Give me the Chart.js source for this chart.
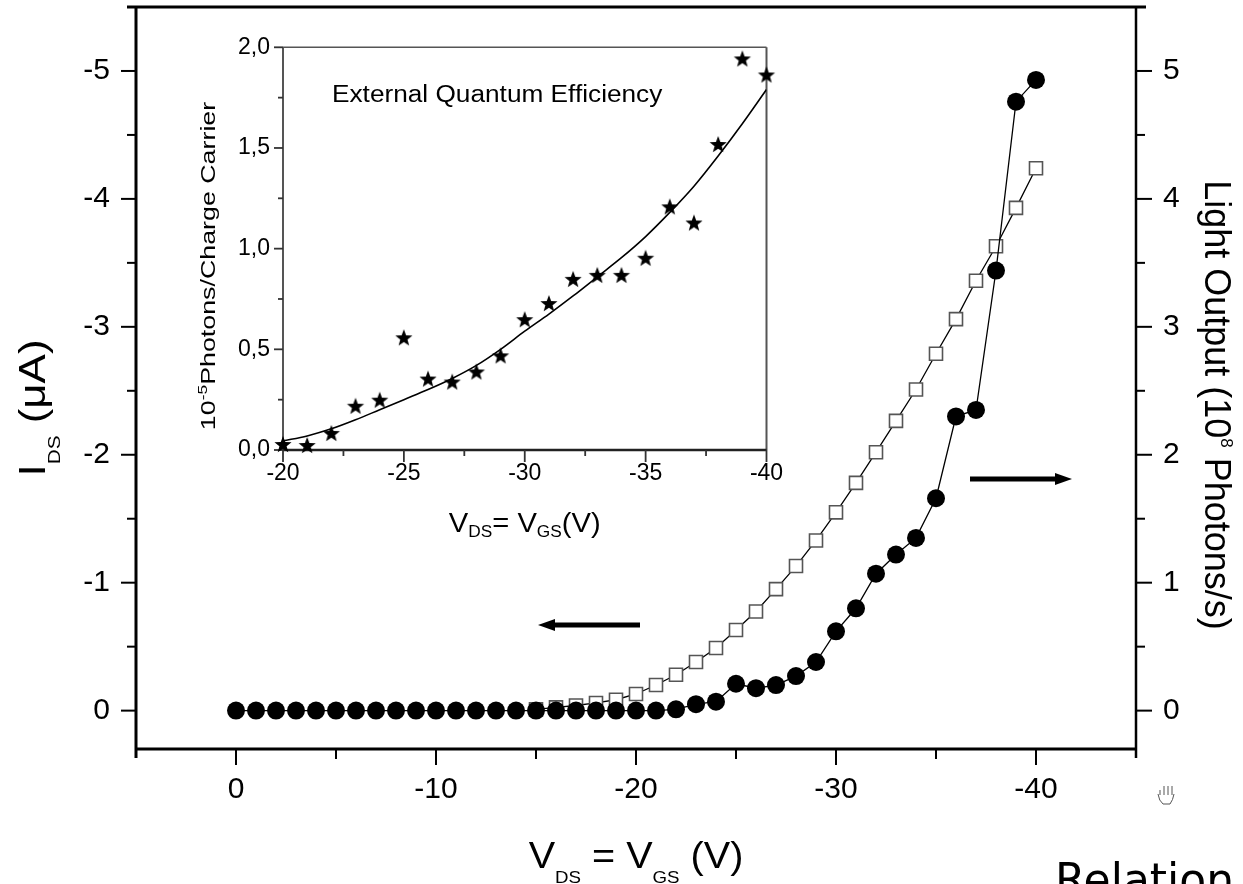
<!DOCTYPE html>
<html>
<head>
<meta charset="utf-8">
<script src="https://cdn.jsdelivr.net/npm/chart.js@4.4.1/dist/chart.umd.min.js"></script>
<style>
html, body { margin: 0; padding: 0; background: #fff; overflow: hidden; }
#wrap { position: relative; width: 1243px; height: 884px; }
#wrap canvas { position: absolute; left: 0; top: 0; }
#relation { position: absolute; left: 1055px; top: 858px; font: 44px "DejaVu Sans", sans-serif; line-height: 1; color: #000; }
</style>
</head>
<body>
<div id="wrap">
  <canvas id="mainChart" width="1243" height="884"></canvas>
  <canvas id="insetChart" width="1243" height="884"></canvas>
  <div id="relation">Relation</div>
</div>
<script>
// main plot
const gateVoltage = [0, -1, -2, -3, -4, -5, -6, -7, -8, -9, -10, -11, -12, -13, -14, -15, -16, -17, -18, -19, -20,
  -21, -22, -23, -24, -25, -26, -27, -28, -29, -30, -31, -32, -33, -34, -35, -36, -37, -38, -39, -40];
// filled circles, right axis (10^8 photons/s)
const lightOutput = [0, 0, 0, 0, 0, 0, 0, 0, 0, 0, 0, 0, 0, 0, 0, 0, 0, 0, 0, 0, 0,
  0, 0.01, 0.05, 0.07, 0.21, 0.175, 0.2, 0.27, 0.38, 0.62, 0.8, 1.07, 1.22, 1.35, 1.66, 2.3, 2.35, 3.44, 4.76, 4.93];
// open squares, left axis (uA)
const drainCurrent = [null, null, null, null, null, null, null, null, null, null, null, null, null, null, null,
  -0.01, -0.025, -0.04, -0.06, -0.085, -0.13, -0.2, -0.28, -0.38, -0.49, -0.63, -0.775, -0.95, -1.13, -1.33,
  -1.55, -1.78, -2.02, -2.265, -2.51, -2.79, -3.06, -3.36, -3.63, -3.93, -4.24];

const xTicks = [0, -10, -20, -30, -40];
const xTickLabels = ['0', '-10', '-20', '-30', '-40'];
const xMinor = [-5, -15, -25, -35];
const leftTicks = [-5, -4, -3, -2, -1, 0];
const leftTickLabels = ['-5', '-4', '-3', '-2', '-1', '0'];
const leftMinor = [-4.5, -3.5, -2.5, -1.5, -0.5];
const rightTicks = [0, 1, 2, 3, 4, 5];
const rightTickLabels = ['0', '1', '2', '3', '4', '5'];
const rightMinor = [0.5, 1.5, 2.5, 3.5, 4.5];

// inset: external quantum efficiency
const insetVoltage = [-20, -21, -22, -23, -24, -25, -26, -27, -28, -29, -30, -31, -32, -33, -34, -35, -36, -37, -38, -39, -40];
const eqe = [0.025, 0.02, 0.08, 0.215, 0.245, 0.555, 0.35, 0.335, 0.385, 0.465, 0.645, 0.725, 0.845, 0.865, 0.865,
  0.95, 1.205, 1.125, 1.515, 1.94, 1.86];
const eqeFit = [0.045, 0.07, 0.105, 0.15, 0.2, 0.25, 0.3, 0.355, 0.42, 0.5, 0.59, 0.675, 0.765, 0.86, 0.955,
  1.06, 1.18, 1.31, 1.46, 1.62, 1.79];
const insetXTicks = [-20, -25, -30, -35, -40];
const insetXLabels = ['-20', '-25', '-30', '-35', '-40'];
const insetXMinor = [-22.5, -27.5, -32.5, -37.5];
const insetYTicks = [0, 0.5, 1, 1.5, 2];
const insetYLabels = ['0,0', '0,5', '1,0', '1,5', '2,0'];
const insetYMinor = [0.25, 0.75, 1.25, 1.75];

// arrows pointing at the axis each curve belongs to
const currentArrow = { from: -20.2, to: -15.1, y: -0.67 };
const lightArrow = { from: -36.7, to: -41.8, y: 1.81 };

const FONT = '"Liberation Sans", Arial, sans-serif';

function pairs(xs, ys) {
  return xs.map((x, i) => ({ x: x, y: ys[i] }));
}

function starImage(r) {
  const c = document.createElement('canvas');
  c.width = c.height = Math.ceil(r * 2 + 2);
  const g = c.getContext('2d');
  const cx = c.width / 2, cy = c.height / 2;
  g.beginPath();
  for (let i = 0; i < 10; i++) {
    const rad = i % 2 ? r * 0.42 : r;
    const ang = -Math.PI / 2 + i * Math.PI / 5;
    g.lineTo(cx + rad * Math.cos(ang), cy + rad * Math.sin(ang));
  }
  g.closePath();
  g.fillStyle = '#000';
  g.fill();
  return c;
}

function line(ctx, x1, y1, x2, y2) {
  ctx.beginPath();
  ctx.moveTo(x1, y1);
  ctx.lineTo(x2, y2);
  ctx.stroke();
}

function tickMarks(ctx, scale, values, len, side) {
  values.forEach(v => {
    const p = scale.getPixelForValue(v);
    if (side === 'down') line(ctx, p, scale.top, p, scale.top + len);
    if (side === 'left') line(ctx, scale.right, p, scale.right - len, p);
    if (side === 'right') line(ctx, scale.left, p, scale.left + len, p);
  });
}

// text with sub/superscripts; parts = [[text, '' | 'sub' | 'sup'], ...]
function richText(ctx, parts, x, y, opt) {
  ctx.save();
  ctx.translate(x, y);
  ctx.rotate(opt.rot || 0);
  ctx.scale(opt.stretch || 1, 1);
  ctx.fillStyle = '#000';
  ctx.textBaseline = 'alphabetic';
  const fontOf = k => (k ? opt.small : opt.size) + 'px ' + FONT;
  let w = 0;
  parts.forEach(([t, k]) => { ctx.font = fontOf(k); w += ctx.measureText(t).width; });
  let cx = opt.align === 'left' ? 0 : -w / 2;
  parts.forEach(([t, k]) => {
    ctx.font = fontOf(k);
    const dy = k === 'sub' ? opt.subShift : k === 'sup' ? -opt.supShift : 0;
    ctx.fillText(t, cx, dy);
    cx += ctx.measureText(t).width;
  });
  ctx.restore();
}

function arrow(ctx, x1, x2, y) {
  const dir = Math.sign(x2 - x1);
  ctx.save();
  ctx.strokeStyle = '#000';
  ctx.fillStyle = '#000';
  ctx.lineWidth = 5;
  line(ctx, x1, y, x2 - dir * 12, y);
  ctx.beginPath();
  ctx.moveTo(x2, y);
  ctx.lineTo(x2 - dir * 17, y - 6);
  ctx.lineTo(x2 - dir * 17, y + 6);
  ctx.closePath();
  ctx.fill();
  ctx.restore();
}

// little hand cursor left in the screenshot
function handCursor(ctx, x, y) {
  ctx.save();
  ctx.strokeStyle = '#555';
  ctx.lineWidth = 1;
  [2, 6, 10, 14].forEach((dx, i) => line(ctx, x + dx, y + (i === 0 ? 4 : 0), x + dx, y + 9));
  ctx.beginPath();
  ctx.moveTo(x, y + 8);
  ctx.quadraticCurveTo(x + 1, y + 15, x + 5, y + 18);
  ctx.lineTo(x + 12, y + 18);
  ctx.quadraticCurveTo(x + 15, y + 14, x + 16, y + 8);
  ctx.stroke();
  ctx.restore();
}

const mainDecor = {
  id: 'mainDecor',
  beforeDatasetsDraw(chart) {
    const ctx = chart.ctx, a = chart.chartArea, s = chart.scales;
    ctx.save();
    ctx.strokeStyle = '#000';
    ctx.lineWidth = 3;
    line(ctx, a.left - 9, a.top, a.right + 10, a.top);
    line(ctx, a.left, a.top, a.left, a.bottom + 9);
    line(ctx, a.left, a.bottom, a.right, a.bottom);
    ctx.lineWidth = 2.5;
    line(ctx, a.right, a.top, a.right, a.bottom + 9);
    ctx.lineWidth = 2;
    tickMarks(ctx, s.x, xTicks, 16, 'down');
    tickMarks(ctx, s.x, xMinor, 10, 'down');
    tickMarks(ctx, s.yL, leftTicks, 15, 'left');
    tickMarks(ctx, s.yL, leftMinor, 9, 'left');
    tickMarks(ctx, s.yR, rightTicks, 16, 'right');
    tickMarks(ctx, s.yR, rightMinor, 9, 'right');
    ctx.restore();
  },
  afterDraw(chart) {
    const ctx = chart.ctx, a = chart.chartArea, s = chart.scales;
    arrow(ctx, s.x.getPixelForValue(currentArrow.from), s.x.getPixelForValue(currentArrow.to), s.yL.getPixelForValue(currentArrow.y));
    arrow(ctx, s.x.getPixelForValue(lightArrow.from), s.x.getPixelForValue(lightArrow.to), s.yR.getPixelForValue(lightArrow.y));
    const big = { size: 36, small: 17, subShift: 15, supShift: 16 };
    richText(ctx, [['V', ''], ['DS', 'sub'], [' = V', ''], ['GS', 'sub'], [' (V)', '']],
      (a.left + a.right) / 2, 868, Object.assign({ stretch: 1.1 }, big));
    richText(ctx, [['I', ''], ['DS', 'sub'], [' (\u03bcA)', '']], 45, 408, Object.assign({ rot: -Math.PI / 2, stretch: 1.22 }, big));
    richText(ctx, [['Light Output (10', ''], ['8', 'sup'], [' Photons/s)', '']], 1205, 405, Object.assign({ rot: Math.PI / 2 }, big));
    handCursor(ctx, 1158, 786);
  }
};

const insetDecor = {
  id: 'insetDecor',
  beforeDatasetsDraw(chart) {
    const ctx = chart.ctx, a = chart.chartArea, s = chart.scales;
    ctx.save();
    ctx.strokeStyle = '#555';
    ctx.lineWidth = 1.5;
    line(ctx, a.left, a.top, a.right, a.top);
    ctx.lineWidth = 2;
    line(ctx, a.right, a.top, a.right, a.bottom);
    line(ctx, a.left, a.top, a.left, a.bottom);
    ctx.strokeStyle = '#222';
    ctx.lineWidth = 2.5;
    line(ctx, a.left, a.bottom, a.right, a.bottom);
    ctx.lineWidth = 1.8;
    ctx.strokeStyle = '#333';
    tickMarks(ctx, s.x, insetXTicks, 12, 'down');
    tickMarks(ctx, s.x, insetXMinor, 6, 'down');
    tickMarks(ctx, s.y, insetYTicks, 9, 'left');
    tickMarks(ctx, s.y, insetYMinor, 5, 'left');
    ctx.restore();
  },
  afterDraw(chart) {
    const ctx = chart.ctx, a = chart.chartArea;
    richText(ctx, [['External Quantum Efficiency', '']], 332, 102, { size: 23, small: 14, align: 'left', stretch: 1.14 });
    richText(ctx, [['V', ''], ['DS', 'sub'], ['= V', ''], ['GS', 'sub'], ['(V)', '']],
      (a.left + a.right) / 2, 532, { size: 27, small: 16, subShift: 5, stretch: 1.08 });
    richText(ctx, [['10', ''], ['-5', 'sup'], ['Photons/Charge Carrier', '']], 215, 266,
      { rot: -Math.PI / 2, size: 20, small: 13, supShift: 8, stretch: 1.34 });
  }
};

Chart.defaults.font.family = FONT;
Chart.defaults.color = '#000';

function fixedTicks(values) {
  return scale => { scale.ticks = values.map(v => ({ value: v })); };
}

// fix the axis box size and drop the label overhang padding chart.js adds
function boxSize(w, h) {
  return scale => {
    if (w !== null) scale.width = w;
    if (h !== null) scale.height = h;
    scale.paddingTop = scale.paddingBottom = scale.paddingLeft = scale.paddingRight = 0;
  };
}

new Chart(document.getElementById('mainChart'), {
  type: 'line',
  data: {
    datasets: [
      {
        label: 'Light output',
        data: pairs(gateVoltage, lightOutput),
        yAxisID: 'yR',
        order: 0,
        borderColor: '#000',
        borderWidth: 1.3,
        pointStyle: 'circle',
        pointRadius: 9,
        pointBackgroundColor: '#000',
        pointBorderColor: '#000',
        pointBorderWidth: 0,
        clip: false
      },
      {
        label: 'I_DS',
        data: pairs(gateVoltage, drainCurrent),
        yAxisID: 'yL',
        order: 1,
        borderColor: '#000',
        borderWidth: 1.3,
        pointStyle: 'rect',
        pointRadius: 9.2,
        pointBackgroundColor: '#fff',
        pointBorderColor: '#555',
        pointBorderWidth: 1.6,
        clip: false
      }
    ]
  },
  options: {
    responsive: false,
    animation: false,
    devicePixelRatio: 1,
    events: [],
    layout: { padding: { top: 7, left: 0, right: 0, bottom: 0 }, autoPadding: false },
    plugins: { legend: { display: false }, tooltip: { enabled: false } },
    scales: {
      x: {
        type: 'linear', reverse: true, min: -45, max: 5,
        afterBuildTicks: fixedTicks(xTicks),
        afterFit: boxSize(null, 135),
        grid: { display: false, drawTicks: false },
        border: { display: false },
        ticks: { padding: 23, font: { size: 30 }, maxRotation: 0, callback: v => xTickLabels[xTicks.indexOf(v)] }
      },
      yL: {
        type: 'linear', position: 'left', reverse: true, min: -5.5, max: 0.3,
        afterBuildTicks: fixedTicks(leftTicks),
        afterFit: boxSize(136, null),
        grid: { display: false, drawTicks: false },
        border: { display: false },
        ticks: { padding: 26, font: { size: 30 }, callback: v => leftTickLabels[leftTicks.indexOf(v)] }
      },
      yR: {
        type: 'linear', position: 'right', min: -0.3, max: 5.5,
        afterBuildTicks: fixedTicks(rightTicks),
        afterFit: boxSize(107, null),
        grid: { display: false, drawTicks: false },
        border: { display: false },
        ticks: { padding: 27, font: { size: 30 }, callback: v => rightTickLabels[rightTicks.indexOf(v)] }
      }
    }
  },
  plugins: [mainDecor]
});

new Chart(document.getElementById('insetChart'), {
  type: 'line',
  data: {
    datasets: [
      {
        label: 'EQE',
        data: pairs(insetVoltage, eqe),
        showLine: false,
        pointStyle: starImage(9),
        pointRadius: 9,
        clip: false
      },
      {
        label: 'fit',
        data: pairs(insetVoltage, eqeFit),
        borderColor: '#000',
        borderWidth: 1.6,
        pointRadius: 0,
        cubicInterpolationMode: 'monotone'
      }
    ]
  },
  options: {
    responsive: false,
    animation: false,
    devicePixelRatio: 1,
    events: [],
    layout: { padding: { top: 47.3, left: 0, right: 476.5, bottom: 0 }, autoPadding: false },
    plugins: { legend: { display: false }, tooltip: { enabled: false } },
    scales: {
      x: {
        type: 'linear', reverse: true, min: -40, max: -20,
        afterBuildTicks: fixedTicks(insetXTicks),
        afterFit: boxSize(null, 434),
        grid: { display: false, drawTicks: false },
        border: { display: false },
        ticks: { padding: 10, font: { size: 23 }, maxRotation: 0, callback: v => insetXLabels[insetXTicks.indexOf(v)] }
      },
      y: {
        type: 'linear', position: 'left', min: 0, max: 2,
        afterBuildTicks: fixedTicks(insetYTicks),
        afterFit: boxSize(283, null),
        grid: { display: false, drawTicks: false },
        border: { display: false },
        ticks: { padding: 13, font: { size: 23 }, callback: v => insetYLabels[insetYTicks.indexOf(v)] }
      }
    }
  },
  plugins: [insetDecor]
});
</script>
</body>
</html>
